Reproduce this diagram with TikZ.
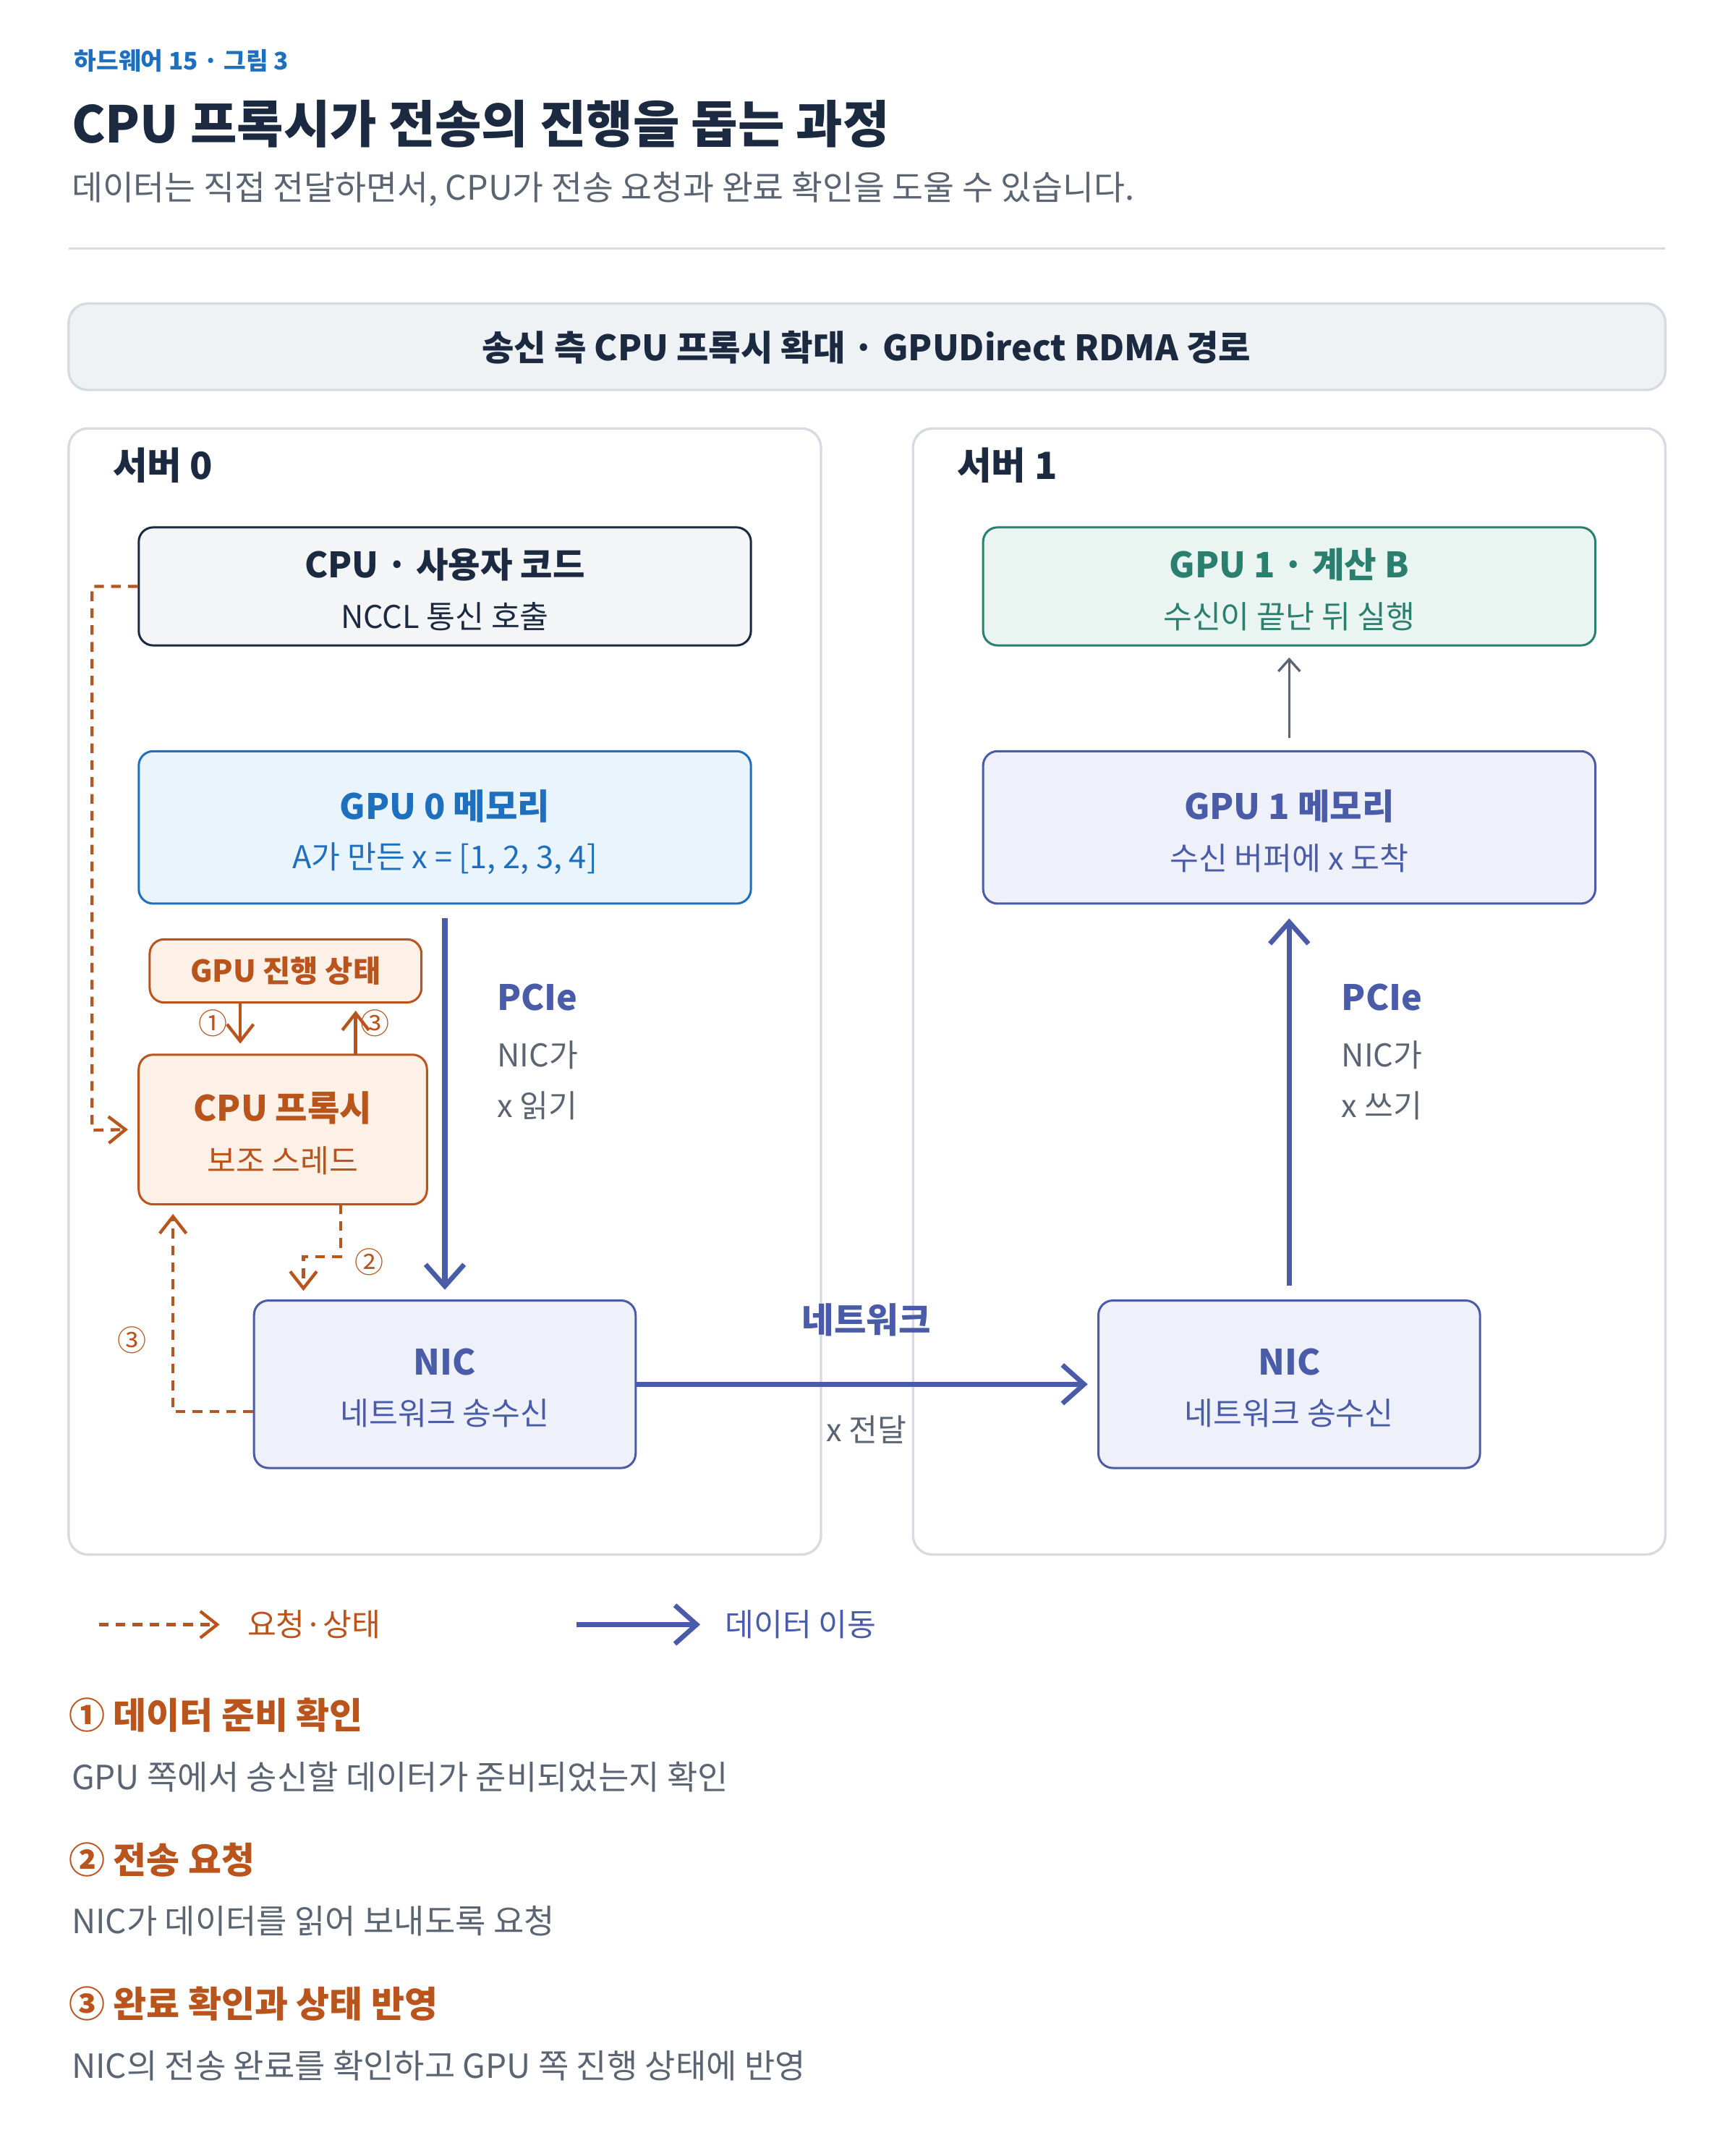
\documentclass[tikz,border=0pt]{standalone}
\usepackage{fontspec}
\setmainfont{Noto Sans CJK KR}
\usetikzlibrary{arrows.meta}
\definecolor{navy}{HTML}{1B2A41}
\definecolor{txtgray}{HTML}{5A6472}
\definecolor{rule}{HTML}{D5DBE1}
\definecolor{orng}{HTML}{B8541C}
\definecolor{orngbg}{HTML}{FDF0E6}
\definecolor{indigo}{HTML}{4A5BA8}
\definecolor{indigobg}{HTML}{EEF0FA}
\definecolor{blu}{HTML}{1F6FBF}
\definecolor{blubg}{HTML}{EAF4FC}
\definecolor{teal}{HTML}{2A7F6F}
\definecolor{tealbg}{HTML}{EAF5F2}
\definecolor{cpubg}{HTML}{F3F5F7}
\definecolor{bannerbg}{HTML}{EEF2F5}
\tikzset{
  box/.style={draw,rounded corners=6pt,line width=0.9pt,inner sep=0pt},
  ttl/.style={font=\fontsize{14.5}{18}\selectfont\bfseries},
  sub/.style={font=\fontsize{13}{16}\selectfont},
  tip/.style={-{Straight Barb[length=7pt,width=11pt,line width=1.3pt]}},
  req/.style={orng,dashed,line width=1.3pt,dash pattern=on 4pt off 3pt,tip},
  data/.style={indigo,line width=2.2pt,-{Straight Barb[length=9pt,width=16pt,line width=2pt]}},
  note/.style={anchor=west,font=\fontsize{15}{18}\selectfont\bfseries,orng},
  notetxt/.style={anchor=west,font=\fontsize{13.8}{17}\selectfont,txtgray}
}
\begin{document}
\begin{tikzpicture}[x=0.02cm,y=-0.02cm]
  \useasboundingbox[fill=white] (0,0) rectangle (1264,1570);
  % header
  \node[anchor=west,font=\fontsize{10}{12}\selectfont\bfseries,blu] (hdr) at (48,44) {하드웨어 15 · 그림 3};
  \node[anchor=west,font=\fontsize{21}{26}\selectfont\bfseries,navy] (title) at (46,90) {CPU 프록시가 전송의 진행을 돕는 과정};
  \node[anchor=west,font=\fontsize{14}{18}\selectfont,txtgray] (subt) at (46,138) {데이터는 직접 전달하면서, CPU가 전송 요청과 완료 확인을 도울 수 있습니다.};
  \draw[rule,line width=1pt] (50,181) -- (1213,181);
  \draw[rule,fill=bannerbg,rounded corners=8pt,line width=1pt] (50,221) rectangle (1213,284);
  \node[font=\fontsize{14.5}{17}\selectfont\bfseries,navy] (banner) at (631,253) {송신 측 CPU 프록시 확대 · GPUDirect RDMA 경로};
  % servers
  \draw[rule,rounded corners=8pt,line width=1pt] (50,312) rectangle (598,1132);
  \draw[rule,rounded corners=8pt,line width=1pt] (665,312) rectangle (1213,1132);
  \node[anchor=west,font=\fontsize{15.5}{18}\selectfont\bfseries,navy] (s0) at (76,339) {서버 0};
  \node[anchor=west,font=\fontsize{15.5}{18}\selectfont\bfseries,navy] (s1) at (691,339) {서버 1};
  % server 0 boxes
  \node[box,navy,fill=cpubg,minimum width=8.92cm,minimum height=1.72cm] (cpu) at (324,427) {};
  \node[ttl,navy] at (324,411) {CPU · 사용자 코드};
  \node[sub,navy] at (324,449) {NCCL 통신 호출};
  \node[box,blu,fill=blubg,minimum width=8.92cm,minimum height=2.22cm] (gmem0) at (324,602.5) {};
  \node[ttl,blu] at (324,587) {GPU 0 메모리};
  \node[sub,blu] at (324,625) {A가 만든 x = [1, 2, 3, 4]};
  \node[box,orng,fill=orngbg,minimum width=3.96cm,minimum height=0.92cm,font=\fontsize{12.5}{15}\selectfont\bfseries] (state) at (208,707) {GPU 진행 상태};
  \node[box,orng,fill=orngbg,minimum width=4.2cm,minimum height=2.18cm] (proxy) at (206,822.5) {};
  \node[ttl,orng] at (206,807) {CPU 프록시};
  \node[sub,orng] at (206,845) {보조 스레드};
  \node[box,indigo,fill=indigobg,minimum width=5.56cm,minimum height=2.44cm] (nic0) at (324,1008) {};
  \node[ttl,indigo] at (324,992) {NIC};
  \node[sub,indigo] at (324,1029) {네트워크 송수신};
  % server 1 boxes
  \node[box,teal,fill=tealbg,minimum width=8.92cm,minimum height=1.72cm] (gcomp) at (939,427) {};
  \node[ttl,teal] at (939,411) {GPU 1 · 계산 B};
  \node[sub,teal] at (939,449) {수신이 끝난 뒤 실행};
  \node[box,indigo,fill=indigobg,minimum width=8.92cm,minimum height=2.22cm] (gmem1) at (939,602.5) {};
  \node[ttl,indigo] at (939,587) {GPU 1 메모리};
  \node[sub,indigo] at (939,625) {수신 버퍼에 x 도착};
  \node[box,indigo,fill=indigobg,minimum width=5.56cm,minimum height=2.44cm] (nic1) at (939,1008) {};
  \node[ttl,indigo] at (939,992) {NIC};
  \node[sub,indigo] at (939,1029) {네트워크 송수신};
  % data paths
  \draw[data] ([yshift=-0.2cm]gmem0.south) -- ([yshift=0.14cm]nic0.north);
  \draw[data] ([yshift=0.2cm]nic1.north) -- ([yshift=-0.2cm]gmem1.north |- gmem1.south);
  \draw[data] (nic0.east) -- ([xshift=-0.14cm]nic1.west);
  \draw[txtgray,line width=1pt,-{Straight Barb[length=5pt,width=9pt]}] ([yshift=0.18cm]gmem1.north) -- ([yshift=-0.16cm]gcomp.south);
  \node[anchor=west,ttl,indigo] (pl) at (356,726) {PCIe};
  \node[anchor=west,sub,txtgray] at (356,768) {NIC가};
  \node[anchor=west,sub,txtgray] at (356,805) {x 읽기};
  \node[anchor=west,ttl,indigo] (pr) at (971,726) {PCIe};
  \node[anchor=west,sub,txtgray] at (971,768) {NIC가};
  \node[anchor=west,sub,txtgray] at (971,805) {x 쓰기};
  \node[ttl,indigo] (net) at (631,961) {네트워크};
  \node[sub,txtgray] at (631,1041) {x 전달};
  % request / state paths
  \draw[req] (cpu.west) -- (67,427) -- (67,823) -- ([xshift=-0.14cm]proxy.west);
  \draw[orng,line width=1.3pt,tip] (175,730) -- (175,760);
  \draw[orng,line width=1.3pt,tip] (259,768) -- (259,736);
  \node[orng,font=\fontsize{12}{14}\selectfont] at (155,745) {①};
  \node[orng,font=\fontsize{12}{14}\selectfont] at (273,745) {③};
  \draw[req] (248,877) -- (248,915) -- (221,915) -- (221,940);
  \node[orng,font=\fontsize{12}{14}\selectfont] at (269,919) {②};
  \draw[req] (nic0.west |- 0,1028) -- (126,1028) -- (126,884);
  \node[orng,font=\fontsize{12}{14}\selectfont] at (96,976) {③};
  % legend
  \coordinate (la) at (72,1183);
  \coordinate (lb) at (160,1183);
  \draw[req] (la) -- (lb);
  \node[anchor=west,sub,orng] at (174,1183) {요청·상태};
  \coordinate (lc) at (420,1183);
  \coordinate (ld) at (510,1183);
  \draw[data] (lc) -- (ld);
  \node[anchor=west,sub,indigo] at (522,1183) {데이터 이동};
  % notes
  \node[note] at (44,1249) {① 데이터 준비 확인};
  \node[notetxt] at (46,1294) {GPU 쪽에서 송신할 데이터가 준비되었는지 확인};
  \node[note] at (44,1354) {② 전송 요청};
  \node[notetxt] at (46,1399) {NIC가 데이터를 읽어 보내도록 요청};
  \node[note] at (44,1459) {③ 완료 확인과 상태 반영};
  \node[notetxt] at (46,1504) {NIC의 전송 완료를 확인하고 GPU 쪽 진행 상태에 반영};
\end{tikzpicture}
\end{document}
